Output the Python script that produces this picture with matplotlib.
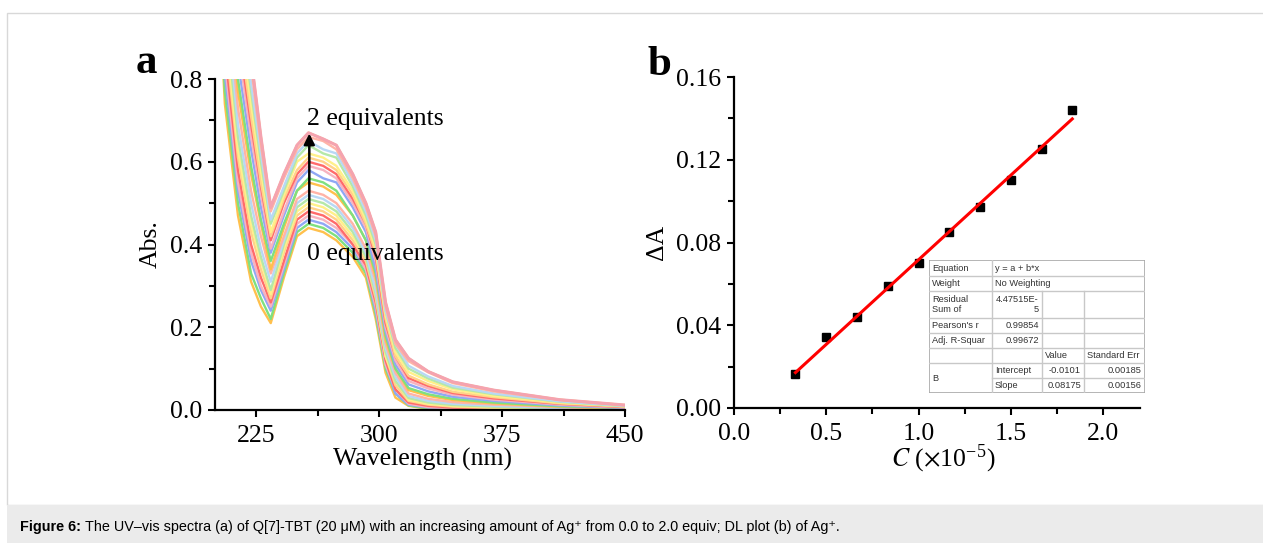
import numpy as np
import matplotlib
matplotlib.use("Agg")
import matplotlib.pyplot as plt
from matplotlib.patches import Rectangle

plt.rcParams['font.family'] = ['Liberation Serif', 'DejaVu Serif']
plt.rcParams['mathtext.fontset'] = 'stix'

# ---- panel a: UV-vis spectra, 0 -> 2 equivalents ----
wavelength = [200, 206, 214, 222, 228, 234, 242, 250, 257, 266, 274, 284,
              292, 298, 304, 310, 318, 330, 345, 370, 410, 450]
spectra = [
    [1.20, 0.74, 0.47, 0.31, 0.25, 0.21, 0.32, 0.42, 0.44, 0.43, 0.41, 0.37, 0.32, 0.22, 0.09, 0.03, 0.010, 0.003, 0.001, 0.000, 0.000, 0.000],
    [1.23, 0.77, 0.50, 0.33, 0.27, 0.22, 0.33, 0.43, 0.45, 0.44, 0.42, 0.38, 0.33, 0.23, 0.10, 0.04, 0.011, 0.004, 0.002, 0.000, 0.000, 0.000],
    [1.27, 0.81, 0.53, 0.36, 0.29, 0.24, 0.34, 0.44, 0.46, 0.45, 0.43, 0.39, 0.34, 0.24, 0.11, 0.04, 0.013, 0.006, 0.003, 0.001, 0.001, 0.000],
    [1.30, 0.84, 0.55, 0.38, 0.30, 0.25, 0.35, 0.45, 0.47, 0.46, 0.44, 0.40, 0.34, 0.25, 0.11, 0.05, 0.015, 0.007, 0.004, 0.002, 0.001, 0.001],
    [1.34, 0.87, 0.58, 0.40, 0.32, 0.26, 0.36, 0.46, 0.48, 0.47, 0.45, 0.40, 0.35, 0.26, 0.12, 0.05, 0.018, 0.010, 0.006, 0.003, 0.002, 0.001],
    [1.38, 0.91, 0.61, 0.43, 0.34, 0.27, 0.38, 0.47, 0.49, 0.48, 0.46, 0.41, 0.36, 0.27, 0.13, 0.06, 0.022, 0.013, 0.008, 0.005, 0.003, 0.001],
    [1.41, 0.94, 0.63, 0.45, 0.36, 0.28, 0.39, 0.48, 0.50, 0.49, 0.47, 0.42, 0.37, 0.28, 0.13, 0.07, 0.025, 0.015, 0.010, 0.006, 0.003, 0.002],
    [1.44, 0.97, 0.66, 0.47, 0.37, 0.29, 0.40, 0.49, 0.51, 0.50, 0.48, 0.43, 0.37, 0.28, 0.14, 0.07, 0.029, 0.018, 0.012, 0.008, 0.004, 0.002],
    [1.48, 1.01, 0.69, 0.50, 0.39, 0.31, 0.41, 0.50, 0.52, 0.51, 0.49, 0.44, 0.38, 0.29, 0.15, 0.08, 0.034, 0.022, 0.015, 0.010, 0.005, 0.002],
    [1.53, 1.05, 0.73, 0.53, 0.42, 0.33, 0.42, 0.51, 0.53, 0.52, 0.50, 0.45, 0.39, 0.31, 0.16, 0.09, 0.040, 0.027, 0.019, 0.013, 0.007, 0.003],
    [1.58, 1.11, 0.77, 0.57, 0.45, 0.34, 0.44, 0.53, 0.55, 0.54, 0.52, 0.47, 0.41, 0.32, 0.17, 0.10, 0.048, 0.034, 0.024, 0.016, 0.008, 0.004],
    [1.62, 1.14, 0.80, 0.59, 0.46, 0.36, 0.45, 0.53, 0.56, 0.55, 0.53, 0.47, 0.41, 0.33, 0.18, 0.10, 0.053, 0.038, 0.027, 0.018, 0.009, 0.005],
    [1.67, 1.19, 0.84, 0.63, 0.49, 0.38, 0.47, 0.55, 0.58, 0.56, 0.55, 0.49, 0.43, 0.34, 0.19, 0.11, 0.062, 0.045, 0.032, 0.022, 0.011, 0.005],
    [1.72, 1.23, 0.88, 0.66, 0.52, 0.39, 0.48, 0.56, 0.59, 0.58, 0.56, 0.50, 0.44, 0.36, 0.20, 0.12, 0.070, 0.052, 0.037, 0.025, 0.013, 0.006],
    [1.76, 1.27, 0.91, 0.69, 0.54, 0.41, 0.50, 0.57, 0.60, 0.59, 0.57, 0.51, 0.45, 0.37, 0.21, 0.13, 0.077, 0.058, 0.041, 0.028, 0.015, 0.007],
    [1.79, 1.30, 0.94, 0.71, 0.55, 0.42, 0.51, 0.58, 0.61, 0.60, 0.58, 0.52, 0.45, 0.38, 0.22, 0.13, 0.083, 0.062, 0.044, 0.031, 0.016, 0.008],
    [1.84, 1.35, 0.97, 0.74, 0.58, 0.43, 0.52, 0.60, 0.62, 0.61, 0.59, 0.53, 0.46, 0.39, 0.23, 0.14, 0.092, 0.070, 0.050, 0.034, 0.018, 0.009],
    [1.88, 1.39, 1.01, 0.77, 0.60, 0.45, 0.53, 0.61, 0.64, 0.62, 0.61, 0.54, 0.47, 0.40, 0.24, 0.15, 0.100, 0.076, 0.054, 0.038, 0.020, 0.009],
    [1.91, 1.42, 1.03, 0.79, 0.62, 0.46, 0.54, 0.62, 0.65, 0.63, 0.62, 0.55, 0.48, 0.41, 0.24, 0.16, 0.107, 0.081, 0.058, 0.040, 0.021, 0.010],
    [1.97, 1.47, 1.08, 0.83, 0.64, 0.48, 0.56, 0.63, 0.66, 0.65, 0.63, 0.56, 0.49, 0.42, 0.25, 0.16, 0.118, 0.091, 0.065, 0.045, 0.024, 0.011],
    [2.00, 1.50, 1.10, 0.85, 0.66, 0.49, 0.57, 0.64, 0.67, 0.655, 0.64, 0.57, 0.50, 0.43, 0.26, 0.17, 0.125, 0.093, 0.068, 0.048, 0.025, 0.012],
]
curve_colors = ['#ffc04d', '#7fe07f', '#8fa8f5', '#f7b3c0', '#ff6b6b',
                '#ffd28a', '#fff08a', '#b5e8a8', '#b8d8f5', '#ffb3a7']

# ---- panel b: detection-limit plot ----
conc = [0.333, 0.5, 0.667, 0.833, 1.0, 1.167, 1.333, 1.5, 1.667, 1.833]
delta_a = [0.0163, 0.0342, 0.0441, 0.0590, 0.0702, 0.0849, 0.0973, 0.1102, 0.1250, 0.1440]
intercept = -0.0101
slope = 0.08175

table_rows = [
    ["Equation", "y = a + b*x", "", ""],
    ["Weight", "No Weighting", "", ""],
    ["Residual\nSum of", "4.47515E-\n5", "", ""],
    ["Pearson's r", "0.99854", "", ""],
    ["Adj. R-Squar", "0.99672", "", ""],
    ["", "", "Value", "Standard Err"],
    ["", "Intercept", "-0.0101", "0.00185"],
    ["", "Slope", "0.08175", "0.00156"],
]

W, H = 1263, 543
fig = plt.figure(figsize=(W / 100, H / 100), dpi=100)


def px_box(x0, y0, x1, y1):
    return [x0 / W, 1 - y1 / H, (x1 - x0) / W, (y1 - y0) / H]


# frame and caption strip
fig.patches.append(Rectangle((7 / W, 38 / H), 1.2, (505 - 13) / H, transform=fig.transFigure,
                             fill=False, edgecolor='#d8d8d8', lw=1.0))
fig.patches.append(Rectangle((7 / W, 0), 1.2, 38 / H, transform=fig.transFigure,
                             facecolor='#ebebeb', edgecolor='none'))


def style_axes(ax):
    for side in ['top', 'right']:
        ax.spines[side].set_visible(False)
    for side in ['left', 'bottom']:
        ax.spines[side].set_linewidth(1.6)
    ax.tick_params(which='major', direction='out', length=5, width=1.5, labelsize=18.5, pad=4)
    ax.tick_params(which='minor', direction='out', length=4, width=1.5)
    ax.tick_params(axis='x', which='major', pad=6)


# panel a
axa = fig.add_axes(px_box(215, 79, 625, 410))
for i, spec in enumerate(spectra):
    axa.plot(wavelength, spec, color=curve_colors[i % len(curve_colors)], lw=1.7,
             solid_joinstyle='round')
axa.plot(wavelength, spectra[-1], color='#f4a3b0', lw=2.2)
axa.set_xlim(200, 450)
axa.set_ylim(0, 0.8)
axa.set_xticks([225, 300, 375, 450])
axa.set_xticks([262.5, 337.5, 412.5], minor=True)
axa.set_yticks([0.0, 0.2, 0.4, 0.6, 0.8])
axa.set_yticks([0.1, 0.3, 0.5, 0.7], minor=True)
axa.yaxis.set_major_formatter(matplotlib.ticker.FormatStrFormatter('%.1f'))
style_axes(axa)
axa.set_xlabel('Wavelength (nm)', fontsize=18.5)
axa.xaxis.set_label_coords(0.507, -0.115)
axa.set_ylabel('Abs.', fontsize=18.5)
axa.yaxis.set_label_coords(-0.13, 0.5)
axa.annotate('', xy=(257.5, 0.675), xytext=(257.5, 0.445),
             arrowprops=dict(arrowstyle='-|>', color='black', lw=1.8, mutation_scale=16))
axa.text(256, 0.688, '2 equivalents', fontsize=18.5, ha='left', va='baseline')
axa.text(256, 0.362, '0 equivalents', fontsize=18.5, ha='left', va='baseline')

# panel b
axb = fig.add_axes(px_box(734, 77, 1140, 408))
axb.plot(conc, delta_a, 's', color='black', ms=6)
fit_x = np.array([conc[0], conc[-1]])
axb.plot(fit_x, intercept + slope * fit_x, color='#ff0000', lw=2.2)
axb.set_xlim(0, 2.2)
axb.set_ylim(0, 0.16)
axb.set_xticks([0.0, 0.5, 1.0, 1.5, 2.0])
axb.set_xticks([0.25, 0.75, 1.25, 1.75], minor=True)
axb.set_yticks([0.0, 0.04, 0.08, 0.12, 0.16])
axb.set_yticks([0.02, 0.06, 0.10, 0.14], minor=True)
axb.xaxis.set_major_formatter(matplotlib.ticker.FormatStrFormatter('%.1f'))
axb.yaxis.set_major_formatter(matplotlib.ticker.FormatStrFormatter('%.2f'))
style_axes(axb)
axb.set_xlabel(r'$C$ ($\times$10$^{\mathregular{-5}}$)', fontsize=18.5)
axb.xaxis.set_label_coords(0.515, -0.105)
axb.set_ylabel('ΔA', fontsize=18.5)
axb.yaxis.set_label_coords(-0.163, 0.5)

# fit report table drawn over panel b
col_x = [929, 992, 1042, 1084, 1145]
row_y = [260, 276, 291, 318, 333, 348, 363, 378, 393]
tax = fig.add_axes(px_box(929, 260, 1145, 393))
tax.set_xlim(929, 1145)
tax.set_ylim(393, 260)
tax.axis('off')
tax.add_patch(Rectangle((929, 260), 216, 133, facecolor='white', edgecolor='#a8a8a8', lw=1.2))
grid_c = '#c8c8c8'
for yy in row_y[1:-1]:
    x_start = col_x[1] if yy == 378 else col_x[0]
    tax.plot([x_start, col_x[-1]], [yy, yy], color=grid_c, lw=1.0)
tax.plot([col_x[1], col_x[1]], [row_y[0], row_y[-1]], color=grid_c, lw=1.0)
for cx in col_x[2:4]:
    tax.plot([cx, cx], [row_y[2], row_y[-1]], color=grid_c, lw=1.0)

sans = ['Liberation Sans', 'DejaVu Sans']
tfs = 6.7
for r, row in enumerate(table_rows):
    ymid = (row_y[r] + row_y[r + 1]) / 2
    for c, txt in enumerate(row):
        if not txt:
            continue
        numeric = txt[0].isdigit() or txt[0] == '-'
        if numeric:
            tax.text(col_x[c + 1] - 3, ymid, txt, ha='right', va='center', fontsize=tfs,
                     family=sans, color='#333333', linespacing=1.05)
        else:
            tax.text(col_x[c] + 3, ymid, txt, ha='left', va='center', fontsize=tfs,
                     family=sans, color='#333333', linespacing=1.05)
tax.text(col_x[0] + 3, row_y[7], 'B', ha='left', va='center', fontsize=tfs, family=sans,
         color='#333333')

# panel letters
fig.text(136 / W, 1 - 73 / H, 'a', fontsize=31, fontweight='bold', family='Liberation Serif')
fig.text(648 / W, 1 - 75 / H, 'b', fontsize=31, fontweight='bold', family='Liberation Serif')

# caption
cap_y = 1 - 527 / H
t1 = fig.text(20 / W, cap_y, 'Figure 6:', fontsize=10.4, fontweight='bold', family=sans, va='center')
fig.canvas.draw()
bb = t1.get_window_extent()
fig.text((bb.x1 + 4) / W, cap_y,
         'The UV–vis spectra (a) of Q[7]-TBT (20 μM) with an increasing amount of Ag⁺ '
         'from 0.0 to 2.0 equiv; DL plot (b) of Ag⁺.',
         fontsize=10.4, family=sans, va='center')

fig.savefig('out.png', dpi=100)
